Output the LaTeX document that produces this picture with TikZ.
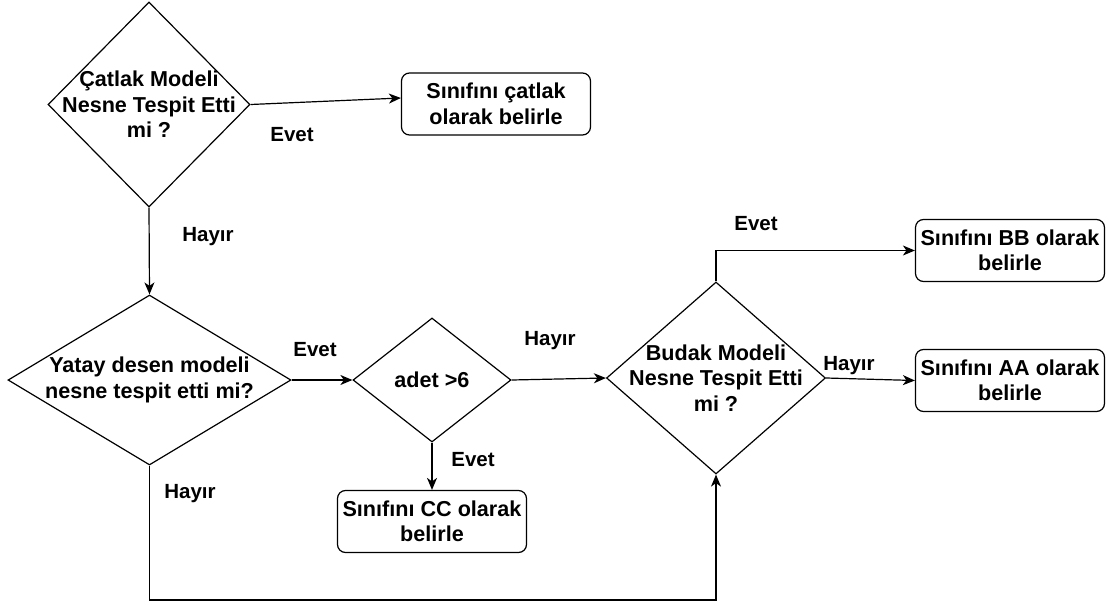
\documentclass[tikz,border=0pt]{standalone}
\usepackage{fontspec}
\setmainfont{Liberation Sans}
\usetikzlibrary{shapes.geometric,arrows.meta,calc}
\newcommand\mynodefont{\fontsize{21.6}{25.5}\selectfont\bfseries}
\newcommand\mylblfont{\fontsize{20.5}{24}\selectfont\bfseries}
\tikzset{
  dia/.style={draw, diamond, inner sep=0pt, line width=1.2pt},
  box/.style={draw, rounded corners=8pt, line width=1.2pt, minimum width=189pt,
              minimum height=62pt, align=center, inner sep=1pt, font=\mynodefont},
  txt/.style={align=center, inner sep=0pt, font=\mynodefont},
  lbl/.style={inner sep=0pt, font=\mylblfont},
  arr/.style={-{Stealth[length=12pt,width=10pt,inset=3.5pt]}, line width=1.2pt},
}
\begin{document}
\begin{tikzpicture}[x=1pt,y=-1pt]
\useasboundingbox (0,0) rectangle (1109,605);
% diamonds
\node[dia, minimum width=202pt, minimum height=205pt] (d1) at (149,104.5) {};
\node[txt] (d1t) at (d1.center) {Çatlak Modeli\\Nesne Tespit Etti\\mi ?};
\node[dia, minimum width=283pt, minimum height=170pt] (d2) at (149.5,380) {};
\node[txt] (d2t) at (d2.center) {Yatay desen modeli\\nesne tespit etti mi?};
\node[dia, minimum width=158pt, minimum height=124pt] (d3) at (432,380) {};
\node[txt] (d3t) at (d3.center) {adet >6};
\node[dia, minimum width=219pt, minimum height=192pt] (d4) at (716,378) {};
\node[txt] (d4t) at (d4.center) {Budak Modeli\\Nesne Tespit Etti\\mi ?};
% boxes
\node[box] (b1) at (496,104) {Sınıfını çatlak\\olarak belirle};
\node[box] (bb) at (1010,250.5) {Sınıfını BB olarak\\belirle};
\node[box] (aa) at (1010,380.5) {Sınıfını AA olarak\\belirle};
\node[box] (cc) at (432,521.5) {Sınıfını CC olarak\\belirle};
% connectors
\draw[arr] (d1.east) -- ($(b1.west)+(0,-6)$);
\draw[arr] (d1.south) -- (d2.north);
\draw[arr] (d2.east) -- (d3.west);
\draw[arr] (d3.east) -- (d4.west);
\draw[arr] (d3.south) -- (cc.north);
\draw[arr] (d4.north) |- (bb.west);
\draw[arr] (d4.east) -- (aa.west);
\coordinate (c1) at (149.5,600);
\coordinate (c2) at (716,600);
\draw[arr] (d2.south) -- (c1) -- (c2) -- (d4.south);
% labels
\node[lbl] (l1) at (292,135) {Evet};
\node[lbl] (l2) at (208,237) {Hayır};
\node[lbl] (l3) at (315,350) {Evet};
\node[lbl] (l4) at (550,341) {Hayır};
\node[lbl] (l5) at (756,224) {Evet};
\node[lbl] (l6) at (849,366) {Hayır};
\node[lbl] (l7) at (473,460) {Evet};
\node[lbl] (l8) at (190,494) {Hayır};
\end{tikzpicture}
\end{document}
